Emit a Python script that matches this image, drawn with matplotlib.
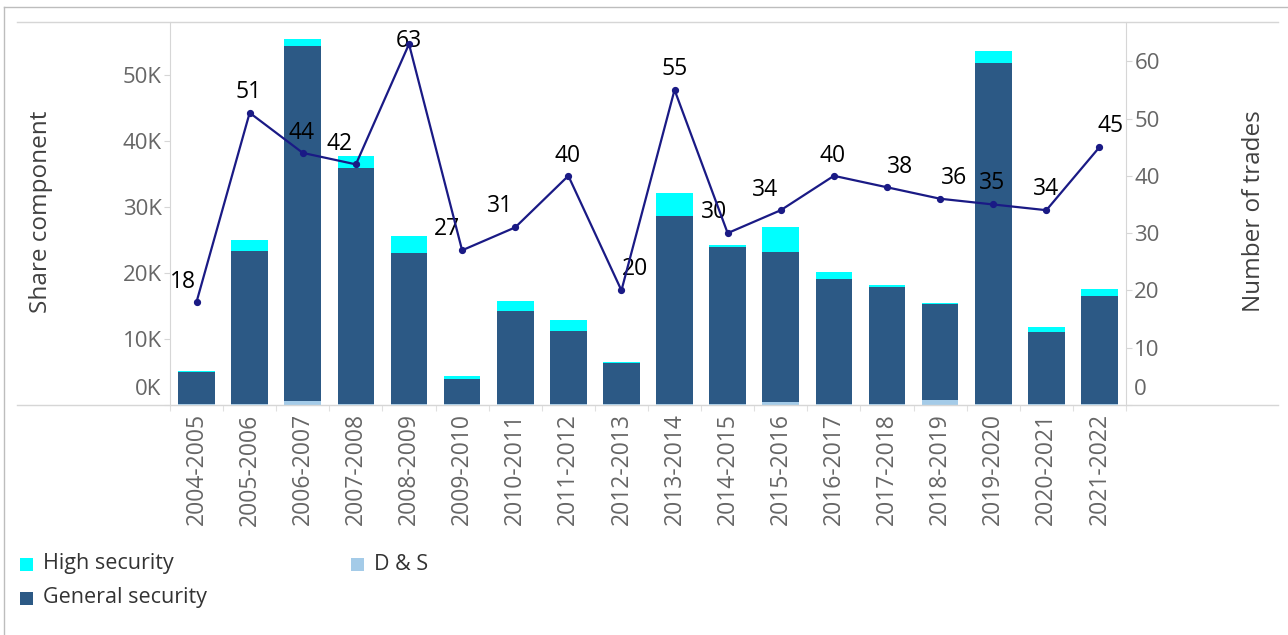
import matplotlib
matplotlib.use("Agg")
import matplotlib.pyplot as plt
import matplotlib.transforms as mtransforms
from matplotlib.lines import Line2D
from matplotlib.patches import Rectangle
import numpy as np

plt.rcParams['font.family'] = ['Open Sans', 'DejaVu Sans']

# ---------------- data ----------------
categories = ["2004-2005", "2005-2006", "2006-2007", "2007-2008", "2008-2009",
              "2009-2010", "2010-2011", "2011-2012", "2012-2013", "2013-2014",
              "2014-2015", "2015-2016", "2016-2017", "2017-2018", "2018-2019",
              "2019-2020", "2020-2021", "2021-2022"]
ds_security = [150, 150, 650, 150, 150, 100, 100, 100, 100, 150,
               150, 500, 150, 200, 800, 150, 100, 150]
general_security = [4850, 23150, 53750, 35750, 22950, 3800, 14100, 11200, 6320, 28450,
                    23750, 22700, 18950, 17750, 14500, 51750, 11000, 16350]
high_security = [160, 1700, 1200, 1900, 2600, 500, 1600, 1600, 150, 3600,
                 300, 3800, 1100, 250, 150, 1800, 700, 1100]
trades = [18, 51, 44, 42, 63, 27, 31, 40, 20, 55, 30, 34, 40, 38, 36, 35, 34, 45]

left_ticks = [0, 10000, 20000, 30000, 40000, 50000]
left_tick_labels = ["0K", "10K", "20K", "30K", "40K", "50K"]
right_ticks = [0, 10, 20, 30, 40, 50, 60]

# label placement offsets (pixels) for the number-of-trades annotations
label_dx = [-14, -1, -1, -16, 0, -15, -15, -1, 14, 0, -14, -16, -1, 13, 14, -1, 0, 11]
label_dy = [20, 21, 20, 20, 3, 21, 21, 20, 21, 21, 21, 20, 20, 20, 21, 21, 21, 21]

# ---------------- style ----------------
C_HIGH = "#00FFFF"
C_GEN = "#2C5985"
C_DS = "#A4CBE8"
C_LINE = "#1A1A85"
C_TICK = "#666666"
C_TITLE = "#404040"
C_GRID = "#D6D6D6"

W, H = 1288, 635
fig = plt.figure(figsize=(W / 100, H / 100), dpi=100)
x0, x1, ytop, ybot = 170, 1126, 21.7, 405.0
ax = fig.add_axes([x0 / W, 1 - ybot / H, (x1 - x0) / W, (ybot - ytop) / H])
ax2 = ax.twinx()

x = np.arange(len(categories))
ds = np.array(ds_security)
gen = np.array(general_security)
hi = np.array(high_security)
bw = 0.69
ax.bar(x, ds, width=bw, color=C_DS, linewidth=0)
ax.bar(x, gen, width=bw, bottom=ds, color=C_GEN, linewidth=0)
ax.bar(x, hi, width=bw, bottom=ds + gen, color=C_HIGH, linewidth=0)

ax.set_xlim(-0.5, len(categories) - 0.5)
ax.set_ylim(0, 58150)
ax2.set_ylim(0, 66.9)

ax2.plot(x, trades, color=C_LINE, lw=1.6, marker='o', ms=4.2, zorder=5)
for i, v in enumerate(trades):
    ax2.annotate(str(v), (x[i], v), xytext=(label_dx[i] * 0.72, label_dy[i] * 0.72),
                 textcoords='offset points', ha='center', va='center',
                 fontsize=16.5, color='black', annotation_clip=False)

# spines
for a in (ax, ax2):
    for s in a.spines.values():
        s.set_visible(False)
ax.spines['left'].set_visible(True)
ax.spines['left'].set_color(C_GRID)
ax2.spines['right'].set_visible(True)
ax2.spines['right'].set_color(C_GRID)

# left axis
ax.set_yticks(left_ticks)
ax.set_yticklabels(left_tick_labels)
ax.tick_params(axis='y', length=4, width=0.8, color=C_GRID, labelcolor=C_TICK,
               labelsize=16, pad=2)
ax.set_ylabel("Share component", fontsize=17.5, color=C_TITLE, labelpad=0)
ax.yaxis.set_label_coords((53 - x0) / (x1 - x0), (ybot - 212) / (ybot - ytop))

# right axis
ax2.set_yticks(right_ticks)
ax2.set_yticklabels([str(t) for t in right_ticks])
ax2.tick_params(axis='y', length=4, width=0.8, color=C_GRID, labelcolor=C_TICK,
                labelsize=16, pad=2)
ax2.set_ylabel("Number of trades", fontsize=17.5, color=C_TITLE)
ax2.yaxis.set_label_coords((1242 - x0) / (x1 - x0), (ybot - 211) / (ybot - ytop))

# lift the zero labels like the reference
off = mtransforms.ScaledTranslation(0, 18 / 100, fig.dpi_scale_trans)
t0 = ax.yaxis.get_major_ticks()[0]
t0.label1.set_transform(t0.label1.get_transform() + off)
r0 = ax2.yaxis.get_major_ticks()[0]
r0.label2.set_transform(r0.label2.get_transform() + off)

# x axis
ax.set_xticks(x)
ax.set_xticklabels(categories, rotation=90)
ax.set_xticks(np.arange(len(categories) + 1) - 0.5, minor=True)
ax.tick_params(axis='x', which='major', length=0, labelcolor=C_TICK, labelsize=16.5, pad=6)
ax.tick_params(axis='x', which='minor', length=4, width=0.8, color="#E0E0E0")

# pane border lines across the view
fig.add_artist(Line2D([17 / W, 1278 / W], [1 - ytop / H, 1 - ytop / H], color=C_GRID, lw=1))
fig.add_artist(Line2D([17 / W, 1278 / W], [1 - ybot / H, 1 - ybot / H], color=C_GRID, lw=1))
# outer frame
fig.add_artist(Line2D([4 / W, 4 / W], [0, 1 - 7 / H], color="#BDBDBD", lw=1))
fig.add_artist(Line2D([4 / W, 1], [1 - 7 / H, 1 - 7 / H], color="#BDBDBD", lw=1))

# legend (manual)
legend_items = [("High security", C_HIGH, 20, 564),
                ("General security", C_GEN, 20, 598),
                ("D & S", C_DS, 351, 564)]
for label, col, lx, ly in legend_items:
    fig.add_artist(Rectangle((lx / W, 1 - (ly + 6.5) / H), 13 / W, 13 / H,
                             transform=fig.transFigure, color=col, lw=0))
    fig.text((lx + 23) / W, 1 - ly / H, label, fontsize=15.5, color="#333333",
             ha='left', va='center')

fig.savefig("out.png", dpi=100)
